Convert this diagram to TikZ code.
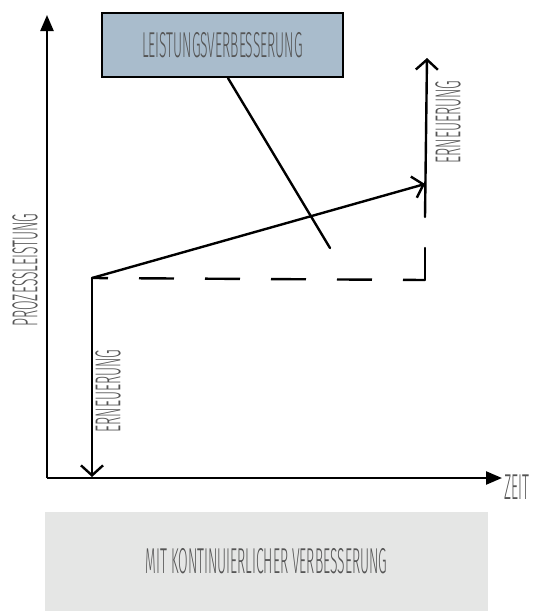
\documentclass[tikz,border=0pt]{standalone}
\usepackage{fontspec}
\newfontfamily\handfont[FakeStretch=0.385]{Fira Sans Light}
\usetikzlibrary{arrows.meta}
\definecolor{boxblue}{HTML}{A9BCCC}
\definecolor{boxgray}{HTML}{E5E6E5}
\definecolor{textgray}{HTML}{555555}

\begin{document}
\begin{tikzpicture}[x=1pt,y=-1pt,
  handtext/.style={font=\handfont\fontsize{36pt}{36pt}\selectfont, text=textgray, inner sep=0pt},
  axis/.style={line width=2.4pt, -{Triangle[length=16pt,width=13pt]}},
  pen/.style={line width=2.4pt, line cap=round},
  openhead/.style={-{Straight Barb[length=10pt,width=22pt]}}]
  \useasboundingbox (0,0) rectangle (537,611);

  % axes
  \coordinate (origin) at (47,478);
  \coordinate (ytop) at (47,15);
  \coordinate (xend) at (502,478);
  \draw[axis] (origin) -- (ytop);
  \draw[axis] (origin) -- (xend);
  \node[handtext, anchor=west] (zeit) at (504,487) {ZEIT};
  \node[handtext, rotate=90] (leistung) at (25,270) {PROZESSLEISTUNG};

  % renewal down to the time axis
  \coordinate (start) at (92,278);
  \coordinate (startbase) at (92,477);
  \draw[pen, openhead] (start) -- (startbase);
  \node[handtext, rotate=90] (ernlinks) at (108,391) {ERNEUERUNG};

  % improvement
  \coordinate (peak) at (425,184);
  \draw[pen, openhead] (start) -- (peak);

  % level kept
  \coordinate (corner) at (425,280);
  \coordinate (dashtop) at (425,248);
  \draw[pen, line cap=butt, dash pattern=on 35pt off 31pt, dash phase=19pt] (start) -- (corner);
  \draw[pen] (corner) -- (dashtop);

  % renewal at the end
  \coordinate (riselow) at (425,217);
  \coordinate (risetop) at (427,58);
  \draw[pen, openhead] (riselow) -- (risetop);
  \node[handtext, rotate=90] (ernrechts) at (448,122) {ERNEUERUNG};

  % boxes
  \node[handtext, draw=black, line width=2.2pt, fill=boxblue, minimum width=241pt, minimum height=64pt] (verb) at (222.5,45) {LEISTUNGSVERBESSERUNG};
  \coordinate (pointer) at (330,248);
  \draw[pen] ([xshift=5.5pt]verb.south) -- (pointer);

  \node[handtext, fill=boxgray, minimum width=443pt, minimum height=99pt] (kvp) at (266.5,561.5) {MIT KONTINUIERLICHER VERBESSERUNG};
\end{tikzpicture}
\end{document}
